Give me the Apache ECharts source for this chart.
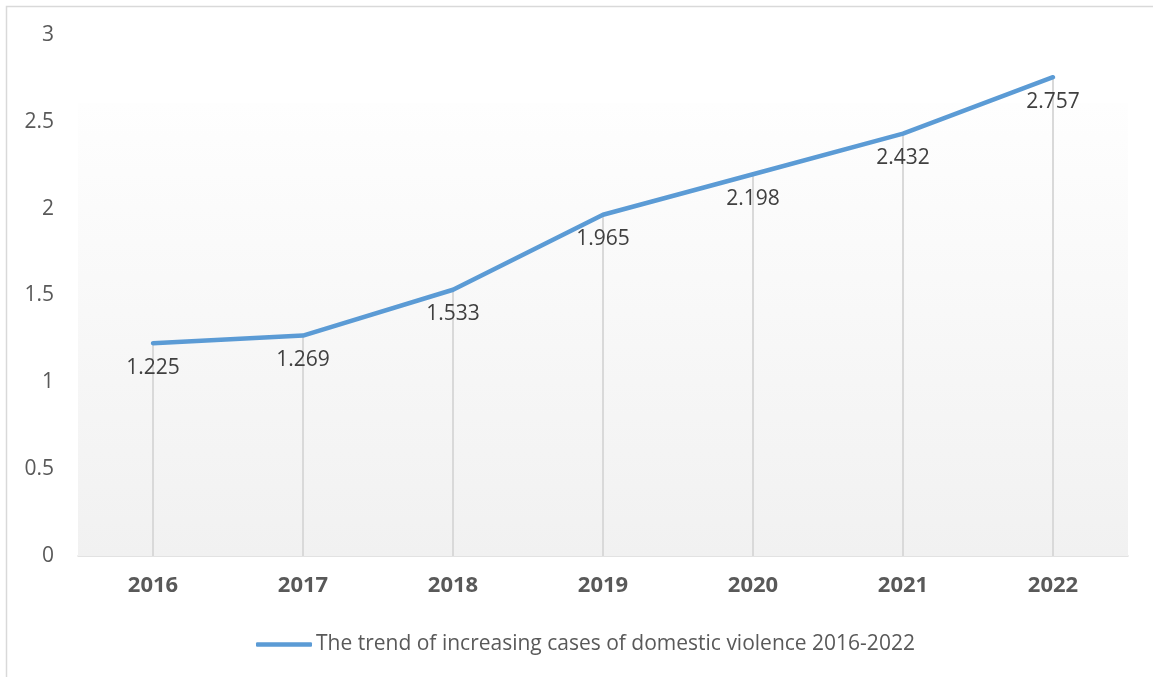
<!DOCTYPE html>
<html>
<head>
<meta charset="utf-8">
<script src="https://cdn.jsdelivr.net/npm/echarts@6/dist/echarts.min.js"></script>
<style>
  html, body { margin: 0; padding: 0; background: #ffffff; }
  #chart { width: 1153px; height: 677px; }
</style>
</head>
<body>
<div id="chart"></div>
<script>
// Yearly figures for domestic violence cases
const years = ['2016', '2017', '2018', '2019', '2020', '2021', '2022'];
const cases = [1.225, 1.269, 1.533, 1.965, 2.198, 2.432, 2.757];
const seriesName = 'The trend of increasing cases of domestic violence 2016-2022';

const FONT = '"Open Sans", "Noto Sans", sans-serif';

const chart = echarts.init(document.getElementById('chart'), null, { renderer: 'canvas' });

chart.setOption({
  animation: false,
  backgroundColor: '#ffffff',
  textStyle: { fontFamily: FONT },
  graphic: [{
    type: 'rect',
    shape: { x: 6.5, y: 6.5, width: 1170, height: 700 },
    style: { fill: 'none', stroke: '#d9d9d9', lineWidth: 1.5 },
    silent: true,
    z: -10
  }],
  grid: { left: 78, right: 25, top: 35, bottom: 121 },
  legend: {
    left: 251,
    top: 629,
    itemWidth: 56,
    itemHeight: 4.5,
    icon: 'roundRect',
    data: [seriesName],
    textStyle: { fontFamily: FONT, fontSize: 21, color: '#595959', padding: [0, 0, 0, -1] }
  },
  xAxis: {
    type: 'category',
    data: years,
    boundaryGap: true,
    axisLine: { lineStyle: { color: '#d9d9d9', width: 1.5 } },
    axisTick: { show: false },
    axisLabel: { margin: 19, fontFamily: FONT, fontSize: 22, fontWeight: 'bold', color: '#595959' },
    splitLine: { show: false }
  },
  yAxis: {
    type: 'value',
    min: 0,
    max: 3,
    interval: 0.5,
    axisLine: { show: false },
    axisTick: { show: false },
    splitLine: { show: false },
    axisLabel: { margin: 24, fontFamily: FONT, fontSize: 21, color: '#595959' }
  },
  series: [
    {
      // thin vertical drop lines from each point to the axis
      type: 'bar',
      data: cases,
      barWidth: 2,
      silent: true,
      itemStyle: { color: '#d9d9d9' },
      z: 1,
      markArea: {
        silent: true,
        itemStyle: {
          color: new echarts.graphic.LinearGradient(0, 0, 0, 1, [
            { offset: 0, color: '#fefefe' },
            { offset: 1, color: '#f1f1f1' }
          ])
        },
        data: [[{ yAxis: 0 }, { yAxis: 2.61 }]]
      }
    },
    {
      name: seriesName,
      type: 'line',
      data: cases,
      z: 3,
      symbol: 'circle',
      symbolSize: 0,
      showSymbol: true,
      lineStyle: { color: '#5b9bd5', width: 4.5, cap: 'round', join: 'round' },
      itemStyle: { color: '#5b9bd5' },
      label: {
        show: true,
        position: 'bottom',
        distance: 14,
        fontFamily: FONT,
        fontSize: 21,
        color: '#404040'
      }
    }
  ]
});
</script>
</body>
</html>
